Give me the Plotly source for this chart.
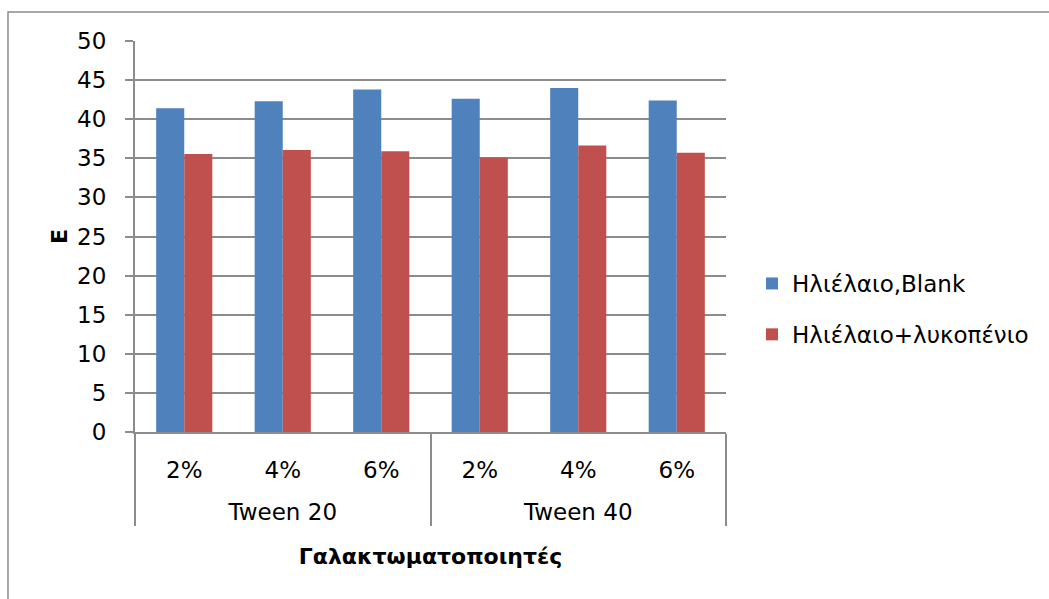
import plotly.graph_objects as go

# Emulsifier groups and concentrations (a leading line break drops the
# group labels onto their own row beneath the concentration labels)
groups = ["<br>Tween 20"] * 3 + ["<br>Tween 40"] * 3
concentrations = ["2%", "4%", "6%", "2%", "4%", "6%"]

# E values per series
blank_values = [41.4, 42.3, 43.8, 42.6, 44.0, 42.4]
lycopene_values = [35.55, 36.05, 35.9, 35.1, 36.65, 35.7]

series_names = ["Ηλιέλαιο,Blank", "Ηλιέλαιο+λυκοπένιο"]
series_colors = ["#4F81BD", "#C0504D"]

font_family = "DejaVu Sans"
axis_grey = "#8C8C8C"

fig = go.Figure()
for name, vals, col, grp in zip(series_names, [blank_values, lycopene_values],
                                series_colors, ["a", "b"]):
    fig.add_trace(go.Bar(
        x=[groups, concentrations],
        y=vals,
        name=name,
        marker=dict(color=col, line=dict(width=0)),
        legendgroup=grp,
    ))

# Outer chart border
fig.add_shape(type="rect", xref="paper", yref="paper",
              x0=-0.2149, x1=1.7, y0=-0.6, y1=1.0742,
              line=dict(color=axis_grey, width=1.5), fillcolor="rgba(0,0,0,0)",
              layer="below")

fig.update_layout(
    width=1049, height=599,
    margin=dict(l=135, r=323, t=41, b=167),
    paper_bgcolor="white", plot_bgcolor="white",
    barmode="group", bargap=0.43, bargroupgap=0,
    font=dict(family=font_family, size=23, color="#000000"),
    showlegend=True,
    legend=dict(x=1.044, y=0.3146, xanchor="left", yanchor="middle",
                font=dict(size=23), traceorder="grouped", tracegroupgap=18,
                itemwidth=30),
    xaxis=dict(
        type="multicategory",
        showline=True, linecolor=axis_grey, linewidth=2,
        showdividers=True, dividercolor=axis_grey, dividerwidth=2,
        ticks="", ticklabelstandoff=16,
        tickfont=dict(size=23),
        title=dict(text="<b>Γαλακτωματοποιητές</b>", font=dict(size=22), standoff=25),
    ),
    yaxis=dict(
        range=[0, 50], dtick=5, tick0=0,
        showline=True, linecolor=axis_grey, linewidth=2,
        showgrid=True, gridcolor=axis_grey, gridwidth=2,
        zeroline=False,
        ticks="outside", tickcolor=axis_grey, ticklen=8, tickwidth=2,
        ticklabelstandoff=14,
        tickfont=dict(size=23),
        title=dict(text="<b>E</b>", font=dict(size=22), standoff=3),
    ),
)

fig.write_html("out.html")
